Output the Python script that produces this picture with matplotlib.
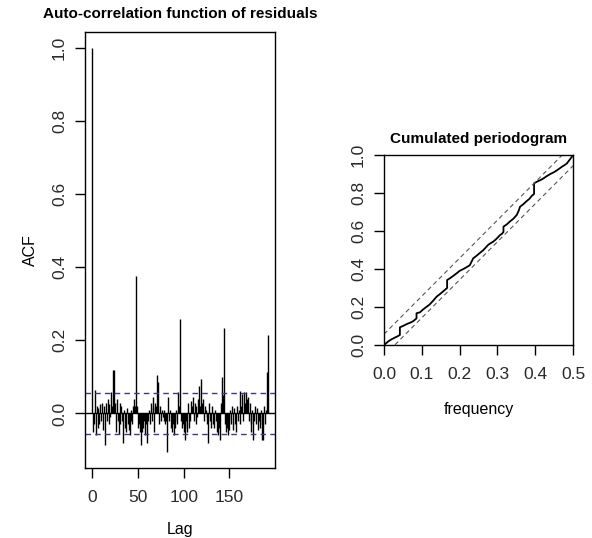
import numpy as np
import matplotlib
matplotlib.use("Agg")
import matplotlib.pyplot as plt

plt.rcParams['font.family'] = ['Liberation Sans', 'DejaVu Sans']

# ACF of residuals, lags 0..192
acf_vals = [
    1.0, -0.05, -0.03, 0.065, -0.06, 0.02, -0.04, 0.015, -0.03, 0.025, -0.02, 0.03,
    -0.045, 0.02, -0.085, 0.03, -0.02, 0.04, -0.03, 0.025, -0.01, 0.06, 0.02, 0.12,
    0.12, 0.03, -0.05, 0.04, -0.02, -0.055, 0.03, -0.03, 0.02, -0.02, -0.08, 0.01,
    -0.04, -0.05, 0.015, -0.03, -0.045, -0.06, -0.02, 0.01, -0.03, 0.02, 0.04, 0.02,
    0.375, 0.02, -0.04, -0.03, -0.05, -0.087, -0.03, -0.05, -0.04, -0.02, -0.06, -0.03,
    -0.08, -0.02, 0.01, -0.03, 0.03, -0.02, 0.045, 0.02, -0.05, 0.03, 0.02, 0.105,
    0.085, -0.03, 0.02, -0.02, 0.01, -0.01, -0.02, 0.01, -0.03, -0.02, -0.105, 0.045,
    -0.02, 0.01, -0.04, -0.05, -0.03, -0.06, -0.04, -0.02, 0.01, -0.03, 0.06, 0.02,
    0.26, -0.02, -0.04, -0.03, -0.05, -0.072, -0.04, -0.02, -0.05, 0.03, -0.04, -0.02,
    0.035, 0.02, 0.045, -0.02, 0.03, -0.03, 0.02, -0.01, 0.04, 0.076, 0.02, 0.095,
    0.03, 0.04, -0.02, 0.02, 0.01, -0.03, -0.01, -0.08, 0.03, -0.02, -0.04, 0.02,
    -0.03, -0.04, 0.01, -0.02, -0.05, -0.03, -0.06, -0.04, -0.073, 0.03, 0.1, 0.05,
    0.235, -0.03, -0.05, -0.04, -0.06, -0.02, -0.045, 0.01, -0.03, 0.02, -0.045, 0.015,
    -0.03, -0.05, 0.02, -0.02, 0.01, -0.03, 0.062, 0.02, 0.053, -0.02, 0.058, 0.03,
    0.058, 0.04, 0.045, -0.02, 0.03, -0.03, -0.05, 0.01, -0.073, -0.02, 0.02, -0.03,
    0.015, -0.045, -0.02, -0.04, 0.01, -0.073, -0.03, -0.072, 0.02, -0.03, 0.01, 0.114,
    0.216,
]
acf_ci = 0.0566

# cumulated periodogram, with the visible jumps as repeated frequencies
cp_freq = [0.0, 0.006, 0.012, 0.02, 0.028, 0.036, 0.042, 0.042, 0.05, 0.06, 0.07, 0.077,
           0.086, 0.086, 0.095, 0.104, 0.112, 0.12, 0.13, 0.139, 0.148, 0.158, 0.167,
           0.167, 0.175, 0.184, 0.192, 0.2, 0.21, 0.219, 0.227, 0.232, 0.236, 0.245,
           0.254, 0.263, 0.27, 0.276, 0.283, 0.289, 0.296, 0.302, 0.307, 0.312, 0.316,
           0.316, 0.325, 0.333, 0.342, 0.351, 0.356, 0.36, 0.368, 0.376, 0.385, 0.391,
           0.397, 0.397, 0.405, 0.414, 0.422, 0.43, 0.44, 0.45, 0.458, 0.465, 0.472,
           0.478, 0.484, 0.49, 0.495, 0.5]
cp_cum = [0.0, 0.01, 0.02, 0.03, 0.038, 0.046, 0.053, 0.093, 0.1, 0.11, 0.118, 0.125,
          0.14, 0.167, 0.172, 0.188, 0.2, 0.212, 0.233, 0.254, 0.268, 0.285, 0.3,
          0.342, 0.352, 0.365, 0.377, 0.39, 0.4, 0.41, 0.42, 0.44, 0.456, 0.47,
          0.485, 0.5, 0.515, 0.528, 0.537, 0.544, 0.556, 0.568, 0.579, 0.585, 0.595,
          0.623, 0.635, 0.65, 0.664, 0.684, 0.705, 0.728, 0.74, 0.755, 0.77, 0.785,
          0.795, 0.851, 0.86, 0.868, 0.877, 0.888, 0.9, 0.91, 0.92, 0.93, 0.94,
          0.947, 0.956, 0.972, 0.985, 1.0]
cp_crit = 0.057

tick_col = '#2a2a2a'

fig = plt.figure(figsize=(5.92, 5.38), dpi=100)

# left panel: ACF
ax1 = fig.add_axes([85 / 592, 1 - 468 / 538, 190 / 592, 436 / 538])
lags = np.arange(len(acf_vals))
vals = np.array(acf_vals)
ax1.vlines(lags, 0, vals, color='black', lw=1)
ax1.axhline(0, color='black', lw=1)
ax1.axhline(acf_ci, color='#3a3a8a', lw=1, ls=(0, (4, 3)))
ax1.axhline(-acf_ci, color='#3a3a8a', lw=1, ls=(0, (4, 3)))
lo = min(vals.min(), -acf_ci)
hi = vals.max()
pad = 0.04 * (hi - lo)
ax1.set_ylim(lo - pad, hi + pad)
xpad = 0.04 * lags.max()
ax1.set_xlim(-xpad, lags.max() + xpad)
ax1.set_xticks([0, 50, 100, 150])
ax1.set_yticks([0.0, 0.2, 0.4, 0.6, 0.8, 1.0])
ax1.set_yticklabels(['0.0', '0.2', '0.4', '0.6', '0.8', '1.0'], rotation=90, va='center')
ax1.set_xlabel('Lag', fontsize=11.5, labelpad=12)
ax1.set_ylabel('ACF', fontsize=11.5, labelpad=10)
ax1.set_title('Auto-correlation function of residuals', fontsize=11,
              fontweight='bold', pad=10)

# right panel: cumulated periodogram
ax2 = fig.add_axes([384 / 592, 1 - 345 / 538, 189 / 592, 190 / 538])
ax2.plot(cp_freq, cp_cum, color='black', lw=1.3)
fx = np.array([0.0, 0.5])
ax2.plot(fx, 2 * fx + cp_crit, color='#555555', lw=0.8, ls=(0, (4, 3)))
ax2.plot(fx, 2 * fx - cp_crit, color='#555555', lw=0.8, ls=(0, (4, 3)))
ax2.set_xlim(0, 0.5)
ax2.set_ylim(0, 1)
ax2.set_xticks([0.0, 0.1, 0.2, 0.3, 0.4, 0.5])
ax2.set_xticklabels(['0.0', '0.1', '0.2', '0.3', '0.4', '0.5'])
ax2.set_yticks([0.0, 0.2, 0.4, 0.6, 0.8, 1.0])
ax2.set_yticklabels(['0.0', '0.2', '0.4', '0.6', '0.8', '1.0'], rotation=90, va='center')
ax2.set_xlabel('frequency', fontsize=11.5, labelpad=14)
ax2.set_title('Cumulated periodogram', fontsize=11, fontweight='bold', pad=9)

for ax in (ax1, ax2):
    ax.tick_params(direction='out', length=7, width=1, labelsize=12.5,
                   colors='black', labelcolor=tick_col)
    ax.tick_params(axis='x', pad=9)
    ax.tick_params(axis='y', pad=6)
    for s in ax.spines.values():
        s.set_linewidth(1)
        s.set_color('black')

fig.savefig('out.png', dpi=100)
